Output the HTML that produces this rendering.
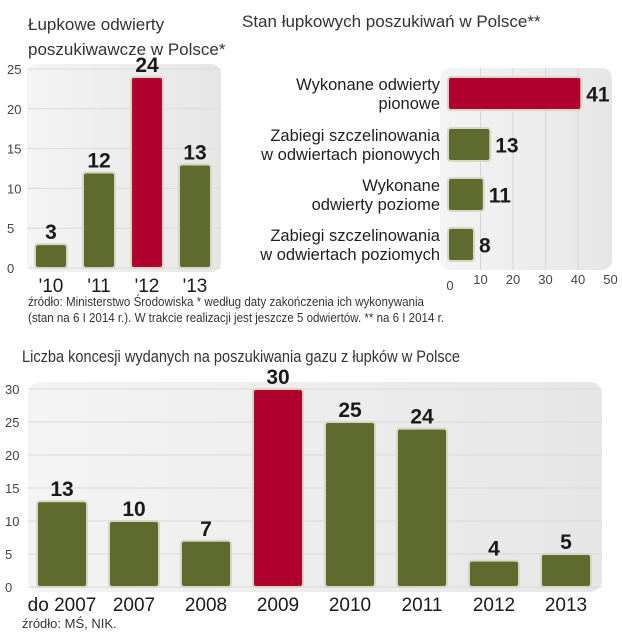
<!DOCTYPE html>
<html><head><meta charset="utf-8">
<style>
html,body{margin:0;padding:0;background:#fff;}
svg{display:block;font-family:"Liberation Sans",sans-serif;}
.t{fill:#333;font-size:17px;}
.tick{fill:#444;font-size:13px;}
.val{fill:#1a1a1a;font-size:21px;font-weight:bold;}
.xl{fill:#1a1a1a;font-size:19px;}
.lab{fill:#1f1f1f;font-size:16.5px;}
.note{fill:#333;font-size:13px;}
</style></head>
<body>
<svg id="c" width="622" height="640" viewBox="0 0 622 640" xmlns="http://www.w3.org/2000/svg">
<defs>
<linearGradient id="bg" x1="0" y1="0" x2="1" y2="0"><stop offset="0" stop-color="#f4f4f4"/><stop offset="1" stop-color="#e6e6e6"/></linearGradient>
</defs>
<g id="g1"></g>
<g id="g2"></g>
<g id="g3"></g>
<text class="t" x="28" y="30">Łupkowe odwierty</text>
<text class="t" x="28" y="55">poszukiwawcze w Polsce*</text>
<text class="t" x="242" y="27">Stan łupkowych poszukiwań w Polsce**</text>
<text class="note" x="28" y="306" textLength="396" lengthAdjust="spacingAndGlyphs">źródło: Ministerstwo Środowiska * według daty zakończenia ich wykonywania</text>
<text class="note" x="28" y="322" textLength="416" lengthAdjust="spacingAndGlyphs">(stan na 6 I 2014 r.). W trakcie realizacji jest jeszcze 5 odwiertów. ** na 6 I 2014 r.</text>
<text class="t" x="22" y="362" textLength="438" lengthAdjust="spacingAndGlyphs">Liczba koncesji wydanych na poszukiwania gazu z łupków w Polsce</text>
<text class="note" x="22" y="628">źródło: MŚ, NIK.</text>
</svg>
<script>
const wellYears = ["'10","'11","'12","'13"];
const wellCounts = [3,12,24,13];
const wellTicks = [0,5,10,15,20,25];
const statusLabels = [["Wykonane odwierty","pionowe"],["Zabiegi szczelinowania","w odwiertach pionowych"],["Wykonane","odwierty poziome"],["Zabiegi szczelinowania","w odwiertach poziomych"]];
const statusValues = [41,13,11,8];
const statusTicks = [0,10,20,30,40,50];
const concYears = ["do 2007","2007","2008","2009","2010","2011","2012","2013"];
const concCounts = [13,10,7,30,25,24,4,5];
const concTicks = [0,5,10,15,20,25,30];
const RED="#b0002e", GREEN="#5f6a2e", NS="http://www.w3.org/2000/svg";
function mk(p,tag,a,txt){const e=document.createElementNS(NS,tag);for(const k in a)e.setAttribute(k,a[k]);if(txt!==undefined)e.textContent=txt;p.appendChild(e);return e;}

// Chart 1
(function(){
const g=document.getElementById('g1');
const y=v=>268-v*(199/25), x0=35, step=48, bw=32;
const bg=mk(g,'rect',{x:27,y:64,width:194,height:208,rx:10,fill:'url(#bg)'});


wellTicks.forEach(t=>{
 const l=mk(g,'line',{x1:27,x2:221,y1:y(t),y2:y(t),stroke:'#dadada','stroke-width':1});
 
 
 const tx=mk(g,'text',{class:'tick',x:7,y:y(t)+5},t);
 
 
});
wellCounts.forEach((v,i)=>{
 const x=x0+i*step;
 const r=mk(g,'rect',{x:x,y:y(v),width:bw,height:268-y(v),rx:3,fill:v===Math.max(...wellCounts)?RED:GREEN,stroke:'#d8d6c4','stroke-width':2});
 
 
 const vt=mk(g,'text',{class:'val',x:x+bw/2,y:y(v)-5,'text-anchor':'middle'},v);
 
 
 const xt=mk(g,'text',{class:'xl',x:x+bw/2,y:292,'text-anchor':'middle'},wellYears[i]);
 
 
});
})();

// Chart 2
(function(){
const g=document.getElementById('g2');
const x=v=>448+v*3.25, rowY=[77,128,178,228], bh=33;
const bg=mk(g,'rect',{x:440,y:68,width:172,height:202,rx:10,fill:'url(#bg)'});


statusTicks.forEach(t=>{
 if(t>0&&t<50){const l=mk(g,'line',{x1:x(t),x2:x(t),y1:68,y2:270,stroke:'#d6d6d6','stroke-width':1});
 
 }
 const tx=mk(g,'text',{class:'tick',x:x(t)+(t===0?2:0),y:t===0?290:284,'text-anchor':'middle'},t);
 
 
});
statusValues.forEach((v,i)=>{
 const yy=rowY[i];
 const r=mk(g,'rect',{x:448,y:yy,width:x(v)-448,height:bh,rx:3,fill:i===0?RED:GREEN,stroke:'#d8d6c4','stroke-width':2});
 
 
 const vt=mk(g,'text',{class:'val',x:x(v)+5,y:yy+bh/2+8},v);
 
 
 statusLabels[i].forEach((s,j)=>{
  const lt=mk(g,'text',{class:'lab',x:440,y:yy+13+j*19,'text-anchor':'end'},s);
  
  
 });
});
})();

// Chart 3
(function(){
const g=document.getElementById('g3');
const y=v=>587-v*(198/30), x0=37, step=72, bw=50;
const bg=mk(g,'rect',{x:28,y:382,width:574,height:210,rx:12,fill:'url(#bg)'});


concTicks.forEach(t=>{
 const l=mk(g,'line',{x1:28,x2:602,y1:y(t),y2:y(t),stroke:'#d8d8d8','stroke-width':1});
 
 
 const tx=mk(g,'text',{class:'tick',x:5,y:y(t)+5},t);
 
 
});
concCounts.forEach((v,i)=>{
 const x=x0+i*step;
 const r=mk(g,'rect',{x:x,y:y(v),width:bw,height:587-y(v),rx:3,fill:v===Math.max(...concCounts)?RED:GREEN,stroke:'#d8d6c4','stroke-width':2});
 
 
 const vt=mk(g,'text',{class:'val',x:x+bw/2,y:y(v)-5,'text-anchor':'middle'},v);
 
 
 const xt=mk(g,'text',{class:'xl',x:x+bw/2,y:611,'text-anchor':'middle'},concYears[i]);
 
 
});
})();
</script>
</body></html>
